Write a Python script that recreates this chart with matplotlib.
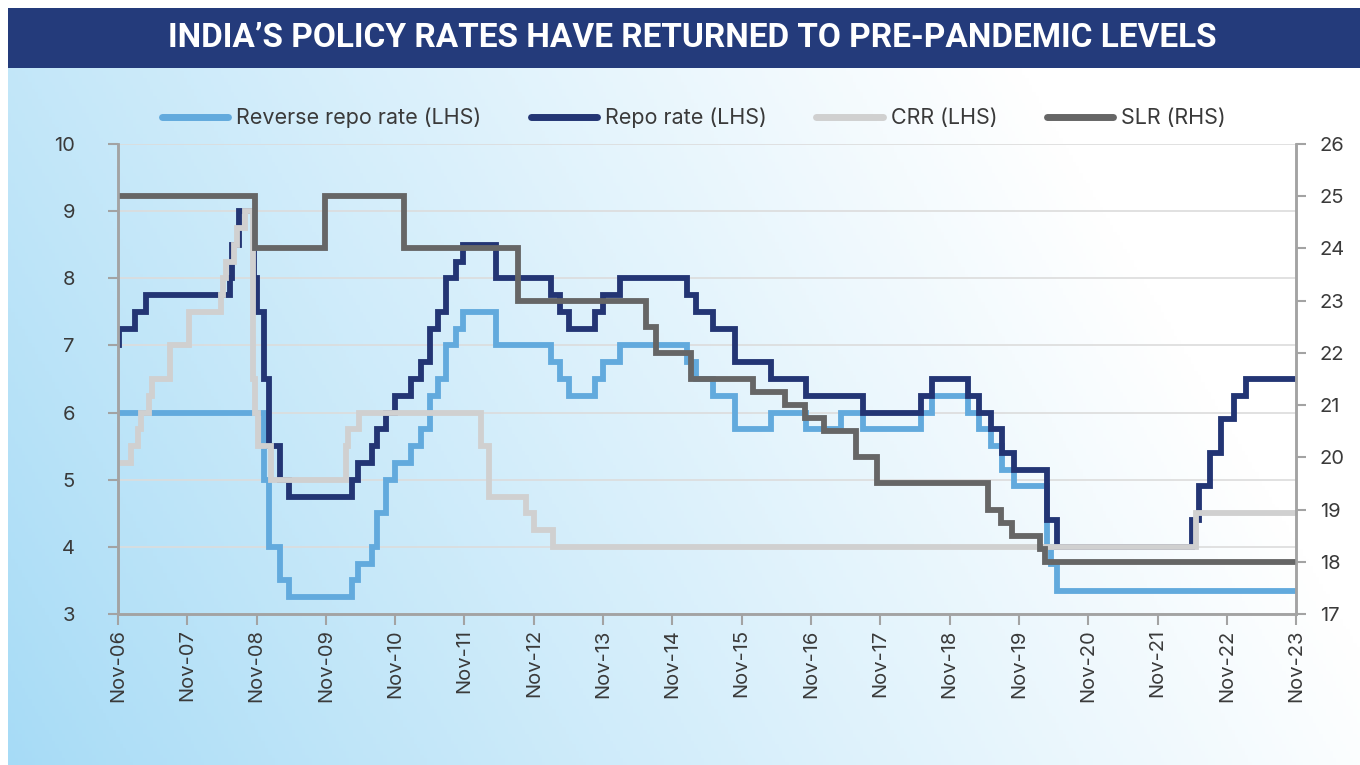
import numpy as np
import matplotlib
matplotlib.use("Agg")
import matplotlib.pyplot as plt
import matplotlib.dates as mdates
from matplotlib.patches import Rectangle

plt.rcParams['font.family'] = ['Inter', 'DejaVu Sans']

# ---- data (step changes) ----
start, end = '2006-11-01', '2023-11-01'

repo_dates = ['2006-11-01', '2006-11-04', '2007-01-31', '2007-03-30', '2008-06-12', '2008-06-25',
              '2008-07-30', '2008-10-20', '2008-11-03', '2008-12-08', '2009-01-05', '2009-03-05',
              '2009-04-21', '2010-03-19', '2010-04-20', '2010-07-02', '2010-07-27', '2010-09-16',
              '2010-11-02', '2011-01-25', '2011-03-17', '2011-05-03', '2011-06-16', '2011-07-26',
              '2011-09-16', '2011-10-25', '2012-04-17', '2013-01-29', '2013-03-19', '2013-05-03',
              '2013-09-20', '2013-10-29', '2014-01-28', '2015-01-15', '2015-03-04', '2015-06-02',
              '2015-09-29', '2016-04-05', '2016-10-04', '2017-08-02', '2018-06-06', '2018-08-01',
              '2019-02-07', '2019-04-04', '2019-06-06', '2019-08-07', '2019-10-04', '2020-03-27',
              '2020-05-22', '2022-05-04', '2022-06-08', '2022-08-05', '2022-09-30', '2022-12-07',
              '2023-02-08']
repo = [7.0, 7.25, 7.5, 7.75, 8.0, 8.5, 9.0, 8.0, 7.5, 6.5, 5.5, 5.0, 4.75, 5.0, 5.25, 5.5, 5.75,
        6.0, 6.25, 6.5, 6.75, 7.25, 7.5, 8.0, 8.25, 8.5, 8.0, 7.75, 7.5, 7.25, 7.5, 7.75, 8.0,
        7.75, 7.5, 7.25, 6.75, 6.5, 6.25, 6.0, 6.25, 6.5, 6.25, 6.0, 5.75, 5.4, 5.15, 4.4, 4.0,
        4.4, 4.9, 5.4, 5.9, 6.25, 6.5]

rrepo_dates = ['2006-11-01', '2008-12-08', '2009-01-05', '2009-03-05', '2009-04-21', '2010-03-19',
               '2010-04-20', '2010-07-02', '2010-07-27', '2010-09-16', '2010-11-02', '2011-01-25',
               '2011-03-17', '2011-05-03', '2011-06-16', '2011-07-26', '2011-09-16', '2011-10-25',
               '2012-04-17', '2013-01-29', '2013-03-19', '2013-05-03', '2013-09-20', '2013-10-29',
               '2014-01-28', '2015-01-15', '2015-03-04', '2015-06-02', '2015-09-29', '2016-04-05',
               '2016-10-04', '2017-04-06', '2017-08-02', '2018-06-06', '2018-08-01', '2019-02-07',
               '2019-04-04', '2019-06-06', '2019-08-07', '2019-10-04', '2020-03-27', '2020-04-17',
               '2020-05-22']
rrepo = [6.0, 5.0, 4.0, 3.5, 3.25, 3.5, 3.75, 4.0, 4.5, 5.0, 5.25, 5.5, 5.75, 6.25, 6.5, 7.0,
         7.25, 7.5, 7.0, 6.75, 6.5, 6.25, 6.5, 6.75, 7.0, 6.75, 6.5, 6.25, 5.75, 6.0, 5.75, 6.0,
         5.75, 6.0, 6.25, 6.0, 5.75, 5.5, 5.15, 4.9, 4.0, 3.75, 3.35]

crr_dates = ['2006-11-01', '2007-01-06', '2007-02-17', '2007-03-03', '2007-04-14', '2007-04-28',
             '2007-08-04', '2007-11-10', '2008-04-26', '2008-05-10', '2008-05-24', '2008-07-05',
             '2008-07-19', '2008-08-30', '2008-10-11', '2008-10-25', '2008-11-08', '2009-01-17',
             '2010-02-13', '2010-02-27', '2010-04-24', '2012-01-28', '2012-03-10', '2012-09-22',
             '2012-11-03', '2013-02-09', '2022-05-21']
crr = [5.25, 5.5, 5.75, 6.0, 6.25, 6.5, 7.0, 7.5, 7.75, 8.0, 8.25, 8.5, 8.75, 9.0, 6.5, 6.0,
       5.5, 5.0, 5.5, 5.75, 6.0, 5.5, 4.75, 4.5, 4.25, 4.0, 4.5]

slr_dates = ['2006-11-01', '2008-10-25', '2009-10-27', '2010-12-18', '2012-08-11', '2014-06-14',
             '2014-08-09', '2015-02-07', '2016-01-01', '2016-06-15', '2016-10-01', '2017-01-07',
             '2017-06-24', '2017-10-14', '2019-05-20', '2019-08-01', '2019-09-25', '2020-02-20',
             '2020-03-20']
slr = [25, 24, 25, 24, 23, 22.5, 22, 21.5, 21.25, 21.0, 20.75, 20.5, 20.0, 19.5, 19.0, 18.75,
       18.5, 18.25, 18.0]

tick_years = list(range(2006, 2024))


def steps(dates, vals):
    x = np.array(dates + [end], dtype='datetime64[D]')
    y = list(vals) + [vals[-1]]
    return x, y


fig = plt.figure(figsize=(13.6, 7.65), dpi=100)

# background gradient below the title bar
bg = fig.add_axes([8 / 1360, 0, 1 - 8 / 1360, 1 - 68 / 765], zorder=-10)
gx, gy = np.meshgrid(np.linspace(0, 1, 400), np.linspace(0, 1, 200))
t = np.clip((gx + 0.3 * gy) / 1.05, 0, 1) ** 0.9
blue = np.array([166, 219, 246]) / 255
img = blue + (1 - blue) * t[..., None]
bg.imshow(img, aspect='auto', origin='lower', extent=[0, 1, 0, 1])
bg.axis('off')

# title bar
fig.patches.append(Rectangle((8 / 1360, 1 - 68 / 765), 1, 60 / 765, transform=fig.transFigure,
                             facecolor='#243b7b', edgecolor='none'))
fig.text(0.509, 1 - 38 / 765, "INDIA\u2019S POLICY RATES HAVE RETURNED TO PRE-PANDEMIC LEVELS",
         color='white', fontsize=24, fontweight='bold', ha='center', va='center',
         family=['Roboto', 'DejaVu Sans'])

ax = fig.add_axes([118 / 1360, 1 - 614 / 765, (1296 - 118) / 1360, (614 - 144) / 765])
ax.set_facecolor('none')
ax2 = ax.twinx()

lw = 4.2
l1, = ax.step(*steps(rrepo_dates, rrepo), where='post', color='#62aadd', lw=lw,
              label='Reverse repo rate (LHS)', solid_joinstyle='miter')
l2, = ax.step(*steps(repo_dates, repo), where='post', color='#233574', lw=lw,
              label='Repo rate (LHS)', solid_joinstyle='miter')
l3, = ax.step(*steps(crr_dates, crr), where='post', color='#d0d0d0', lw=lw,
              label='CRR (LHS)', solid_joinstyle='miter')
l4, = ax2.step(*steps(slr_dates, slr), where='post', color='#666666', lw=lw,
               label='SLR (RHS)', solid_joinstyle='miter')

ax.set_xlim(np.datetime64(start), np.datetime64(end))
ax.set_ylim(3, 10)
ax2.set_ylim(17, 26)
ax.set_yticks(range(3, 11))
ax2.set_yticks(range(17, 27))
ax.set_xticks([np.datetime64(f'{y}-11-01') for y in tick_years])
ax.xaxis.set_major_formatter(mdates.DateFormatter('%b-%y'))
ax.grid(axis='y', color='#dcdcdc', lw=1.2)
ax.set_axisbelow(True)

for a in (ax, ax2):
    for s in a.spines.values():
        s.set_color('#a3a3a3')
        s.set_linewidth(1.8)
    a.spines['top'].set_visible(False)
ax.tick_params(axis='y', length=7, width=1.5, color='#a3a3a3', labelsize=14.5,
               labelcolor='#3a3a3a', pad=24)
ax2.tick_params(axis='y', length=7, width=1.5, color='#a3a3a3', labelsize=14.5,
                labelcolor='#3a3a3a', pad=10)
ax.tick_params(axis='x', length=8, width=1.5, color='#a3a3a3', labelsize=14.5,
               labelcolor='#3a3a3a', pad=3, labelrotation=90)

leg = fig.legend(handles=[l1, l2, l3, l4], loc='center', bbox_to_anchor=(0.51, 1 - 118 / 765),
                 ncol=4, frameon=False, fontsize=15.5, handlelength=3.1, handletextpad=0.35,
                 columnspacing=2.3, labelcolor='#3a3a3a')
for h in leg.legend_handles:
    h.set_solid_capstyle('round')
    h.set_linewidth(5)

fig.savefig('out.png', dpi=100)
